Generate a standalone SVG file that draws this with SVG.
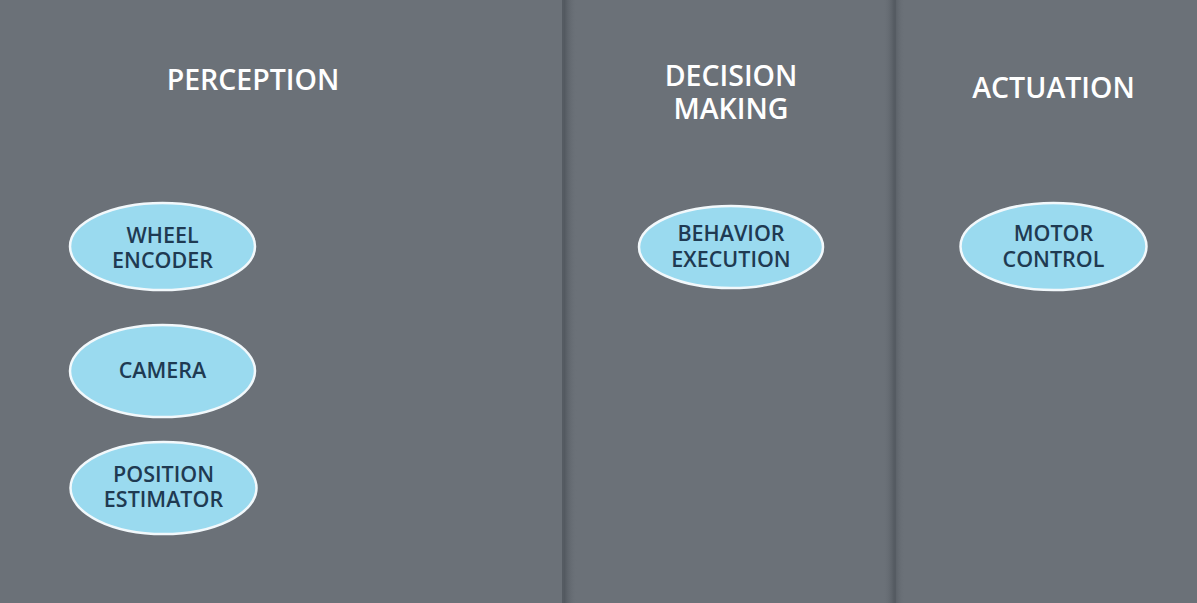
<svg xmlns="http://www.w3.org/2000/svg" width="1197" height="603" viewBox="0 0 1197 603">
  <defs>
    <linearGradient id="shadeR" x1="0" y1="0" x2="1" y2="0">
      <stop offset="0" stop-color="#4a5057" stop-opacity="0.9"/>
      <stop offset="1" stop-color="#6b7178" stop-opacity="0"/>
    </linearGradient>
    <linearGradient id="shadeL" x1="1" y1="0" x2="0" y2="0">
      <stop offset="0" stop-color="#4a5057" stop-opacity="0.8"/>
      <stop offset="1" stop-color="#6b7178" stop-opacity="0"/>
    </linearGradient>
    <style>
      .heading { font-family: "Open Sans", "Liberation Sans", sans-serif; font-size: 28.5px; font-weight: 600; fill: #ffffff; text-anchor: middle; }
      .node ellipse { fill: #9adaef; stroke: #f2f8fb; stroke-width: 2.5; }
      .node text { font-family: "Open Sans", "Liberation Sans", sans-serif; font-size: 21.5px; font-weight: 600; fill: #1f3a52; text-anchor: middle; }
    </style>
  </defs>

  <!-- panel background -->
  <rect x="0" y="0" width="1197" height="603" fill="#6b7178"/>

  <!-- panel dividers with soft shadows -->
  <rect x="563" y="0" width="14" height="603" fill="url(#shadeR)"/>
  <rect x="562" y="0" width="2" height="603" fill="#555b62"/>
  <rect x="883" y="0" width="12" height="603" fill="url(#shadeL)"/>
  <rect x="895" y="0" width="10" height="603" fill="url(#shadeR)" opacity="0.6"/>
  <rect x="894" y="0" width="2" height="603" fill="#555b62"/>

  <!-- column headings -->
  <text class="heading" x="253" y="90">PERCEPTION</text>
  <text class="heading" x="731" y="86">DECISION</text>
  <text class="heading" x="731" y="119">MAKING</text>
  <text class="heading" x="1053.5" y="98">ACTUATION</text>

  <!-- perception nodes -->
  <g id="wheel-encoder" class="node">
    <ellipse cx="162.5" cy="246.5" rx="92.5" ry="43.5"/>
    <text x="162.5" y="242.5">WHEEL</text>
    <text x="162.5" y="267.5">ENCODER</text>
  </g>
  <g id="camera" class="node">
    <ellipse cx="162.5" cy="371" rx="92.5" ry="46"/>
    <text x="162.5" y="378">CAMERA</text>
  </g>
  <g id="position-estimator" class="node">
    <ellipse cx="163.5" cy="488" rx="93" ry="46"/>
    <text x="163.5" y="481.5">POSITION</text>
    <text x="163.5" y="506.5">ESTIMATOR</text>
  </g>

  <!-- decision making node -->
  <g id="behavior-execution" class="node">
    <ellipse cx="731" cy="247" rx="92" ry="41"/>
    <text x="731" y="240.5">BEHAVIOR</text>
    <text x="731" y="266.5">EXECUTION</text>
  </g>

  <!-- actuation node -->
  <g id="motor-control" class="node">
    <ellipse cx="1053.5" cy="246.5" rx="93" ry="43.5"/>
    <text x="1053.5" y="240.5">MOTOR</text>
    <text x="1053.5" y="266.5">CONTROL</text>
  </g>

  <!-- no connectors between nodes -->
  <g id="connectors"/>
</svg>
